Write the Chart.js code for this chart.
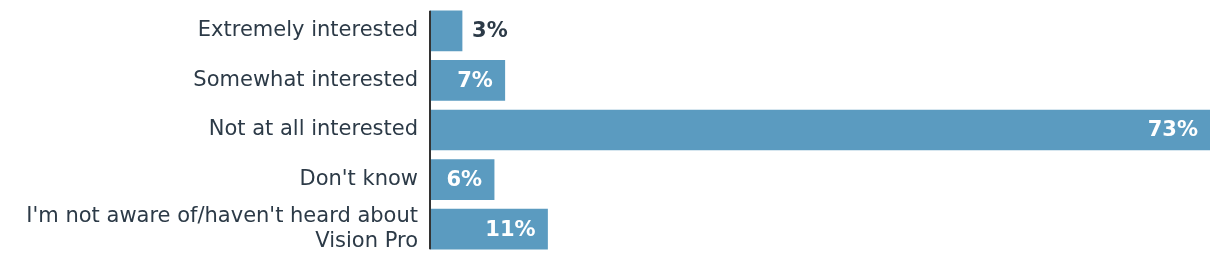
<!DOCTYPE html>
<html>
<head>
<meta charset="utf-8">
<script src="https://cdn.jsdelivr.net/npm/chart.js@4/dist/chart.umd.min.js"></script>
<style>
  html, body { margin: 0; padding: 0; background: #fff; }
  #wrap { width: 1220px; height: 270px; position: relative; }
</style>
</head>
<body>
<div id="wrap"><canvas id="chart"></canvas></div>
<script>
// Survey answers, top to bottom
const categories = [
  'Extremely interested',
  'Somewhat interested',
  'Not at all interested',
  "Don't know",
  ["I'm not aware of/haven't heard about", 'Vision Pro']
];

// Share of respondents, in percent
const shares = [3, 7, 73, 6, 11];

const barColor = '#5b9bc0';
const textColor = '#2c3a47';
const fontFamily = '"DejaVu Sans", "Noto Sans", sans-serif';

// Draws the percentage on each bar: inside in white when it fits, else just past the end.
// Also draws the baseline, which only runs from the first bar's top to the last bar's bottom.
const valueLabels = {
  id: 'valueLabels',
  afterDatasetsDraw(chart) {
    const ctx = chart.ctx;
    const bars = chart.getDatasetMeta(0).data;
    ctx.save();

    const first = bars[0], last = bars[bars.length - 1];
    ctx.strokeStyle = '#333333';
    ctx.lineWidth = 2;
    ctx.beginPath();
    ctx.moveTo(first.base, first.y - first.height / 2);
    ctx.lineTo(first.base, last.y + last.height / 2);
    ctx.stroke();

    ctx.font = 'bold 21px ' + fontFamily;
    ctx.textBaseline = 'middle';
    bars.forEach((bar, i) => {
      const text = shares[i] + '%';
      const w = ctx.measureText(text).width;
      const barLen = bar.x - bar.base;
      if (w + 24 < barLen) {
        ctx.fillStyle = '#ffffff';
        ctx.textAlign = 'right';
        ctx.fillText(text, bar.x - 12, bar.y + 1);
      } else {
        ctx.fillStyle = textColor;
        ctx.textAlign = 'left';
        ctx.fillText(text, bar.x + 10, bar.y + 1);
      }
    });
    ctx.restore();
  }
};

new Chart(document.getElementById('chart'), {
  type: 'bar',
  data: {
    labels: categories,
    datasets: [{
      data: shares,
      backgroundColor: barColor,
      barThickness: 40,
      borderWidth: 0
    }]
  },
  options: {
    indexAxis: 'y',
    responsive: true,
    maintainAspectRatio: false,
    animation: false,
    layout: { padding: { top: 6, bottom: 16, right: 10, left: 0 } },
    plugins: {
      legend: { display: false },
      tooltip: { enabled: false }
    },
    scales: {
      x: {
        display: false,
        min: 0,
        max: 73
      },
      y: {
        grid: { display: false, drawTicks: false },
        border: { display: false },
        ticks: {
          color: textColor,
          padding: 12,
          autoSkip: false,
          font: { family: fontFamily, size: 21 }
        },
        afterFit(scale) {
          scale.width = 430;
          scale.paddingTop = 0;
          scale.paddingBottom = 0;
        }
      }
    }
  },
  plugins: [valueLabels]
});
</script>
</body>
</html>
